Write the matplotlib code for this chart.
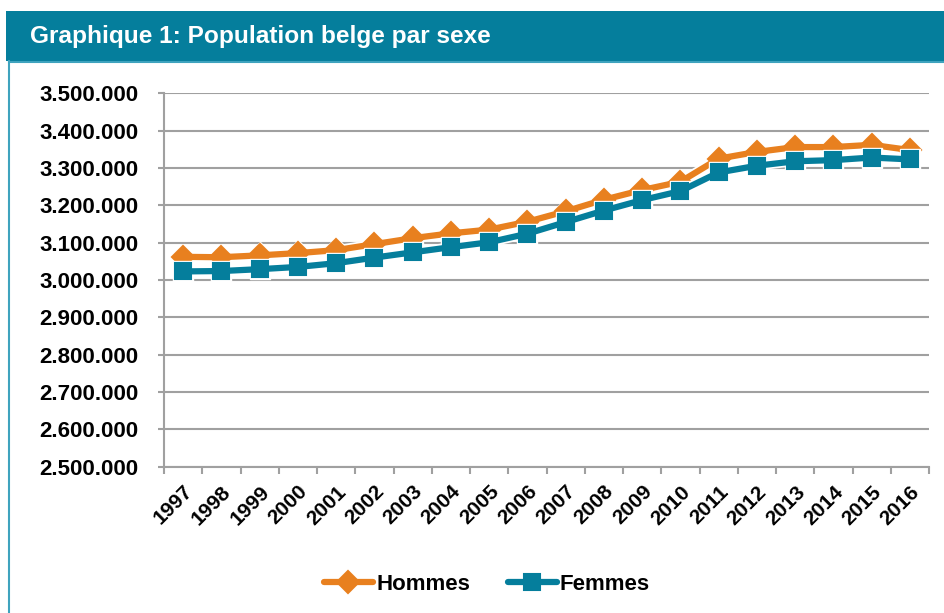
import numpy as np
import matplotlib
matplotlib.use("Agg")
import matplotlib.pyplot as plt
from matplotlib.lines import Line2D
from matplotlib.patches import Rectangle
from matplotlib.ticker import FuncFormatter, FixedLocator

plt.rcParams['font.family'] = ['Liberation Sans', 'DejaVu Sans']

# Data
years = [str(y) for y in range(1997, 2017)]
hommes = [3062000, 3061000, 3066000, 3072000, 3080000, 3096000, 3112000, 3125000,
          3135000, 3156000, 3184000, 3215000, 3241000, 3263000, 3325000, 3343000,
          3356000, 3356000, 3362000, 3348000]
femmes = [3023000, 3024000, 3029000, 3035000, 3045000, 3060000, 3074000, 3088000,
          3101000, 3124000, 3155000, 3186000, 3214000, 3238000, 3288000, 3306000,
          3318000, 3321000, 3328000, 3323000]

ORANGE = '#E8801F'
TEAL = '#057E9C'
GRID = '#A0A0A0'

W, H = 944, 613
fig = plt.figure(figsize=(W / 100, H / 100), dpi=100)

# header band and frame
fig.patches.append(Rectangle((6 / W, 1 - 61 / H), 1 - 6 / W, 50 / H,
                             transform=fig.transFigure, facecolor=TEAL,
                             edgecolor='none', zorder=0))
fig.lines.append(Line2D([9 / W, 9 / W], [0, 1 - 61 / H], transform=fig.transFigure,
                        color='#3FA3BE', lw=1.5))
fig.lines.append(Line2D([9 / W, 1], [1 - 62 / H, 1 - 62 / H], transform=fig.transFigure,
                        color='#3FA3BE', lw=1.5))
fig.text(30 / W, 1 - 37 / H, 'Graphique 1: Population belge par sexe', color='white',
         fontsize=17.6, fontweight='bold', va='center', ha='left')

ax = fig.add_axes([164 / W, 1 - 466.7 / H, (929 - 164) / W, (466.7 - 93.3) / H])
x = np.arange(len(years))

# white halo under each series, then the coloured line
for vals, col, mk, ms, lab, z in [(hommes, ORANGE, 'D', 11, 'Hommes', 3),
                                  (femmes, TEAL, 's', 12, 'Femmes', 5)]:
    ax.plot(x, vals, color='white', lw=7, marker=mk, markersize=ms + 2,
            markeredgecolor='white', markerfacecolor='white',
            solid_joinstyle='round', zorder=z)
    ax.plot(x, vals, color=col, lw=4.5, marker=mk, markersize=ms,
            markeredgecolor=col, markeredgewidth=1.5, markerfacecolor=col,
            solid_joinstyle='round', solid_capstyle='round', label=lab, zorder=z + 1)

ax.set_xlim(-0.5, len(years) - 0.5)
ax.set_ylim(2500000, 3500000)
ax.set_yticks(np.arange(2500000, 3500001, 100000))
ax.yaxis.set_major_formatter(FuncFormatter(lambda v, p: f'{int(v):,}'.replace(',', '.')))
ax.grid(axis='y', color=GRID, lw=1.5, zorder=0)
ax.set_axisbelow(True)

ax.xaxis.set_major_locator(FixedLocator(np.arange(-0.5, len(years))))
ax.xaxis.set_minor_locator(FixedLocator(x))
ax.set_xticklabels([], minor=False)
ax.set_xticklabels(years, minor=True, rotation=45, ha='right',
                   rotation_mode='anchor', fontsize=15, fontweight='bold')
ax.tick_params(axis='x', which='major', length=5, width=1.5, color=GRID)
ax.tick_params(axis='x', which='minor', length=0, pad=11)
ax.tick_params(axis='y', length=4.5, width=1.5, color=GRID, labelsize=16, pad=14)
for lab in ax.get_yticklabels():
    lab.set_fontweight('bold')

for s in ['top', 'right']:
    ax.spines[s].set_visible(False)
for s in ['left', 'bottom']:
    ax.spines[s].set_color(GRID)
    ax.spines[s].set_linewidth(1.5)

leg = fig.legend(loc='center', bbox_to_anchor=(487 / W, 1 - 584 / H), ncol=2,
                 frameon=False, handlelength=2.2, handletextpad=0.15,
                 columnspacing=1.7, prop={'weight': 'bold', 'size': 16})

fig.savefig('out.png', dpi=100, facecolor='white')
